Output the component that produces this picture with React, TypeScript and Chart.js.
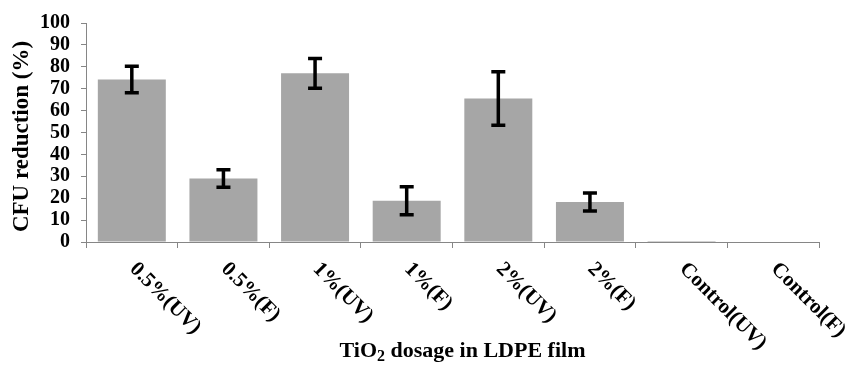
import React, { useEffect, useRef } from "react";
import { Chart, registerables } from "chart.js";

Chart.register(...registerables);

const categories = ["0.5%(UV)", "0.5%(F)", "1%(UV)", "1%(F)", "2%(UV)", "2%(F)", "Control(UV)", "Control(F)"];
const reduction = [74.2, 29.0, 77.0, 18.8, 65.5, 18.3, 0.4, 0];
const errors = [6.0, 4.0, 6.8, 6.4, 12.2, 4.1, 0, 0];
const yAxisTitle = "CFU reduction (%)";
const xAxisTitleMain = "TiO";
const xAxisTitleSub = "2";
const xAxisTitleRest = " dosage in LDPE film";

const FONT = "'Liberation Serif', 'Times New Roman', serif";
const AXIS_COLOR = "#868686";
const BAR_COLOR = "#a6a6a6";

const customDraw = {
  id: "customDraw",
  afterDatasetsDraw(chart: any) {
    const ctx = chart.ctx;
    const x = chart.scales.x;
    const y = chart.scales.y;
    ctx.save();
    ctx.strokeStyle = "#000";
    ctx.lineWidth = 3.5;
    ctx.lineCap = "butt";
    reduction.forEach((v, i) => {
      const e = errors[i];
      if (!e) return;
      const cx = x.getPixelForValue(i);
      const yt = y.getPixelForValue(v + e);
      const yb = y.getPixelForValue(v - e);
      ctx.beginPath();
      ctx.moveTo(cx, yt);
      ctx.lineTo(cx, yb);
      ctx.moveTo(cx - 7, yt);
      ctx.lineTo(cx + 7, yt);
      ctx.moveTo(cx - 7, yb);
      ctx.lineTo(cx + 7, yb);
      ctx.stroke();
    });
    ctx.restore();
  },
  afterDraw(chart: any) {
    const ctx = chart.ctx;
    const x = chart.scales.x;
    const area = chart.chartArea;
    ctx.save();
    ctx.fillStyle = "#000";
    // rotated category labels
    ctx.font = `bold 21px ${FONT}`;
    ctx.textAlign = "left";
    ctx.textBaseline = "middle";
    categories.forEach((c, i) => {
      const cx = x.getPixelForValue(i);
      ctx.save();
      ctx.translate(cx + 1, area.bottom + 24);
      ctx.rotate(Math.PI / 4);
      ctx.fillText(c, 0, 0);
      ctx.restore();
    });
    // y axis title
    ctx.save();
    ctx.font = `bold 23px ${FONT}`;
    ctx.textAlign = "center";
    ctx.textBaseline = "middle";
    ctx.translate(22, (area.top + area.bottom) / 2 + 4);
    ctx.rotate(-Math.PI / 2);
    ctx.fillText(yAxisTitle, 0, 0);
    ctx.restore();
    // x axis title with subscript
    const mainFont = `bold 22px ${FONT}`;
    const subFont = `bold 16px ${FONT}`;
    ctx.font = mainFont;
    const w1 = ctx.measureText(xAxisTitleMain).width;
    const w3 = ctx.measureText(xAxisTitleRest).width;
    ctx.font = subFont;
    const w2 = ctx.measureText(xAxisTitleSub).width;
    const total = w1 + w2 + w3;
    const centerX = (area.left + area.right) / 2 + 10;
    let sx = centerX - total / 2;
    const baseY = 357;
    ctx.textAlign = "left";
    ctx.textBaseline = "alphabetic";
    ctx.font = mainFont;
    ctx.fillText(xAxisTitleMain, sx, baseY);
    sx += w1;
    ctx.font = subFont;
    ctx.fillText(xAxisTitleSub, sx, baseY + 4);
    sx += w2;
    ctx.font = mainFont;
    ctx.fillText(xAxisTitleRest, sx, baseY);
    ctx.restore();
  },
};

export default function App() {
  const ref = useRef<HTMLCanvasElement | null>(null);
  useEffect(() => {
    if (!ref.current) return;
    const chart = new Chart(ref.current, {
      type: "bar",
      data: {
        labels: categories,
        datasets: [
          {
            data: reduction,
            backgroundColor: BAR_COLOR,
            borderWidth: 0,
            categoryPercentage: 1,
            barPercentage: 0.742,
          },
        ],
      },
      options: {
        animation: false,
        responsive: true,
        maintainAspectRatio: false,
        layout: { padding: { left: 0, right: 27, top: 19, bottom: 0 } },
        plugins: {
          legend: { display: false },
          tooltip: { enabled: false },
        },
        scales: {
          x: {
            grid: {
              display: true,
              drawOnChartArea: false,
              offset: true,
              color: AXIS_COLOR,
              tickLength: 6,
            },
            border: { color: AXIS_COLOR, width: 1 },
            ticks: { display: false },
            afterFit: (s: any) => {
              s.height = 123;
            },
          },
          y: {
            min: 0,
            max: 100,
            ticks: {
              stepSize: 10,
              autoSkip: false,
              color: "#000",
              font: { family: FONT, size: 20, weight: "bold" },
              padding: 11,
            },
            grid: {
              display: true,
              drawOnChartArea: false,
              color: AXIS_COLOR,
              tickLength: 5,
            },
            border: { color: AXIS_COLOR, width: 1 },
            afterFit: (s: any) => {
              s.width = 86;
            },
          },
        },
      },
      plugins: [customDraw],
    });
    return () => chart.destroy();
  }, []);
  return (
    <div style={{ position: "absolute", left: 0, top: 0, width: 846, height: 365, background: "#fff" }}>
      <canvas ref={ref} />
    </div>
  );
}
